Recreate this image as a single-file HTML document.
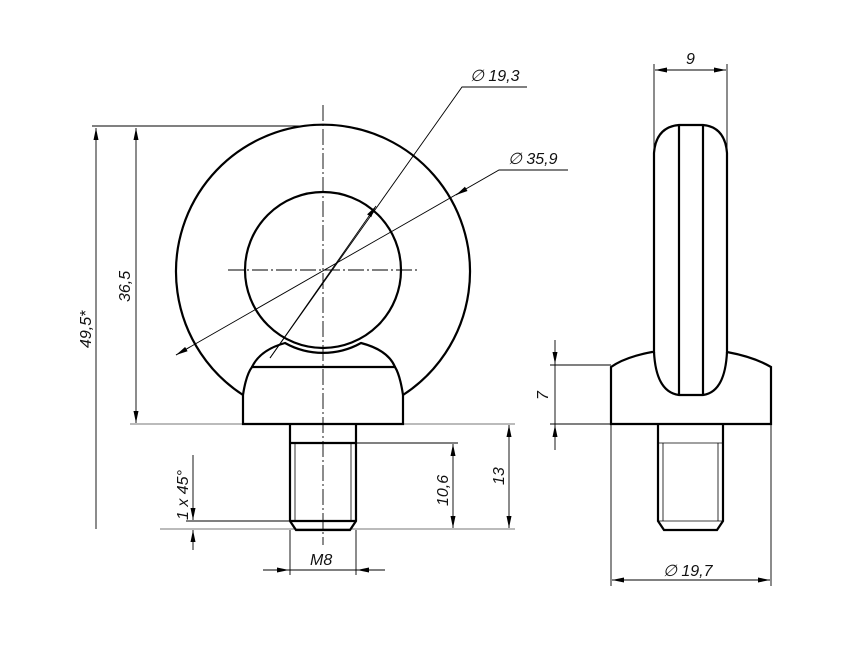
<!DOCTYPE html>
<html><head><style>body{margin:0;background:#fff}svg{display:block}
text{font-family:"Liberation Sans",sans-serif;font-style:italic;font-size:16px;fill:#111}</style></head>
<body>
<svg width="866" height="650" viewBox="0 0 866 650" xmlns="http://www.w3.org/2000/svg">
<defs>
<marker id="a" viewBox="0 0 12 6" refX="12" refY="3" markerWidth="12" markerHeight="6" orient="auto-start-reverse" markerUnits="userSpaceOnUse"><path d="M0,0.5 L12,3 L0,5.5 z" fill="#000"/></marker>
</defs>
<g stroke="#000" fill="none">
<g stroke-width="0.9">
<line x1="92" y1="126" x2="305" y2="126"/>
<line x1="130" y1="424" x2="515" y2="424" stroke="#777"/>
<line x1="160" y1="529" x2="515" y2="529" stroke="#777"/>
<line x1="186" y1="521" x2="290" y2="521"/>
<line x1="356" y1="443" x2="458" y2="443"/>
<line x1="290" y1="530" x2="290" y2="575"/>
<line x1="356" y1="530" x2="356" y2="575"/>
<line x1="654" y1="64" x2="654" y2="150"/>
<line x1="727" y1="64" x2="727" y2="150"/>
<line x1="550" y1="365" x2="611" y2="365"/>
<line x1="550" y1="424" x2="611" y2="424"/>
<line x1="611" y1="424" x2="611" y2="586"/>
<line x1="771" y1="424" x2="771" y2="586"/>
<line x1="96" y1="128" x2="96" y2="529" marker-start="url(#a)"/>
<line x1="136" y1="128" x2="136" y2="423" marker-start="url(#a)" marker-end="url(#a)"/>
<line x1="453" y1="444" x2="453" y2="528" marker-start="url(#a)" marker-end="url(#a)"/>
<line x1="509" y1="425" x2="509" y2="528" marker-start="url(#a)" marker-end="url(#a)"/>
<line x1="193" y1="455" x2="193" y2="520" marker-end="url(#a)"/>
<line x1="193" y1="550" x2="193" y2="530" marker-end="url(#a)"/>
<line x1="263" y1="570" x2="289" y2="570" marker-end="url(#a)"/>
<line x1="385" y1="570" x2="357" y2="570" marker-end="url(#a)"/>
<line x1="289" y1="570" x2="357" y2="570"/>
<line x1="555" y1="340" x2="555" y2="364" marker-end="url(#a)"/>
<line x1="555" y1="450" x2="555" y2="425" marker-end="url(#a)"/>
<line x1="555" y1="364" x2="555" y2="425"/>
<line x1="612" y1="580" x2="770" y2="580" marker-start="url(#a)" marker-end="url(#a)"/>
<line x1="655" y1="70" x2="726" y2="70" marker-start="url(#a)" marker-end="url(#a)"/>
<polyline points="270,358 462,87 527,87"/>
<line x1="376" y1="206" x2="270" y2="358" marker-start="url(#a)"/>
<polyline points="176,355 499,170 568,170"/>
<line x1="176" y1="355" x2="190" y2="347" marker-start="url(#a)"/>
<line x1="466" y1="189" x2="456" y2="195" marker-end="url(#a)"/>
<line x1="323" y1="105" x2="323" y2="545" stroke-dasharray="16,3,2,3"/>
<line x1="228" y1="270" x2="420" y2="270" stroke-dasharray="16,3,2,3"/>
</g>
<g stroke-width="2.2">
<path d="M243,395 A147,147 0 1 1 403,395"/>
<circle cx="323" cy="270" r="78"/>
<path d="M243,424 L243,395 Q246,375 252,367 L395,367 Q400,375 403,395 L403,424 Z"/>
<path d="M252,367 Q260,350 285,343 A78,78 0 0 0 361,343 Q388,350 395,367"/>
<path d="M290,424 L290,521 L296,530 L350,530 L356,521 L356,424"/>
<line x1="290" y1="443" x2="356" y2="443"/>
<line x1="290" y1="521" x2="356" y2="521"/>
</g>
<g stroke-width="0.8"><line x1="295" y1="443" x2="295" y2="521"/><line x1="351" y1="443" x2="351" y2="521"/></g>
<g stroke-width="2.2">
<path d="M611,424 L611,367 Q625,357 652,352 L654,352 L654,153 Q656,127 679,125 L703,125 Q725,127 727,153 L727,352 Q754,357 771,367 L771,424 Z"/>
<path d="M654,352 Q656,392 679,395 L703,395 Q725,392 727,352"/>
<line x1="679" y1="126" x2="679" y2="395"/>
<line x1="703" y1="126" x2="703" y2="395"/>
<path d="M658,424 L658,521 L664,530 L717,530 L723,521 L723,424"/>
</g>
<g stroke-width="0.8"><line x1="658" y1="443" x2="723" y2="443"/><line x1="658" y1="521" x2="723" y2="521"/><line x1="663" y1="443" x2="663" y2="521"/><line x1="718" y1="443" x2="718" y2="521"/></g>
</g>
<text x="470" y="81">∅ 19,3</text>
<text x="508" y="164">∅ 35,9</text>
<text x="686" y="64">9</text>
<text x="310" y="565">M8</text>
<text x="663" y="576">∅ 19,7</text>
<text transform="translate(91,348) rotate(-90)">49,5*</text>
<text transform="translate(130,302) rotate(-90)">36,5</text>
<text transform="translate(448,506) rotate(-90)">10,6</text>
<text transform="translate(504,485) rotate(-90)">13</text>
<text transform="translate(188,520) rotate(-90)">1 x 45°</text>
<text transform="translate(548,400) rotate(-90)">7</text>
</svg>
</body></html>
